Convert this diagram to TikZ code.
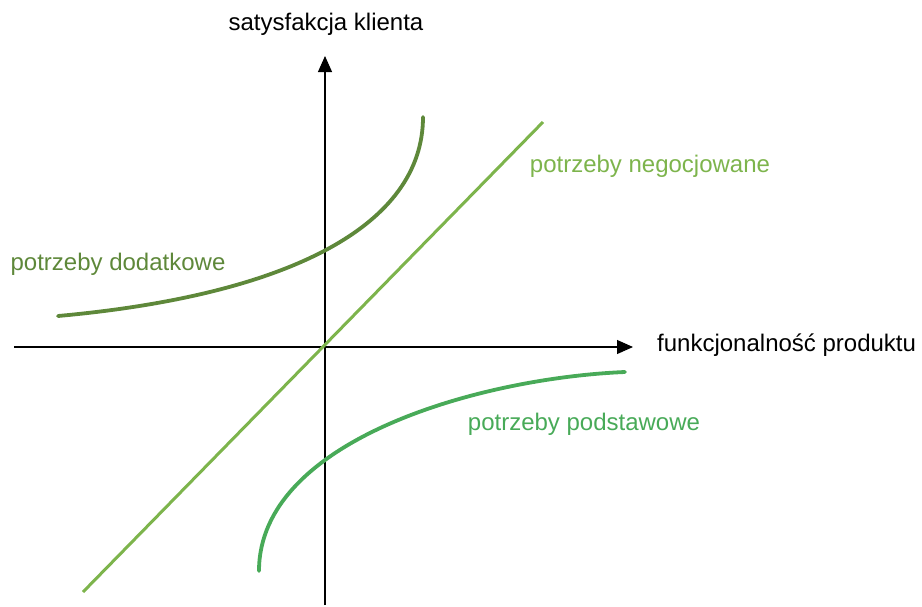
\documentclass[tikz,border=0pt]{standalone}
\usepackage{fontspec}
\setmainfont{Liberation Sans}
\usetikzlibrary{arrows.meta}
\definecolor{cdod}{RGB}{94,136,58}
\definecolor{cneg}{RGB}{125,180,76}
\definecolor{cpod}{RGB}{72,170,88}
\tikzset{
  axis/.style={line width=1.1pt, black, -{Triangle[length=16pt,width=14pt]}},
  lbl/.style={font=\fontsize{24}{28}\selectfont, inner sep=0pt},
  curve/.style={line width=3.8pt, line cap=round},
}
\begin{document}
\begin{tikzpicture}[x=1pt,y=-1pt]
\useasboundingbox (0,0) rectangle (922,606);
% axes
\coordinate (xs) at (14,347);
\coordinate (xe) at (633,347);
\coordinate (ys) at (325,605);
\coordinate (ye) at (325,56);
\draw[axis] (xs) -- (xe);
\draw[axis] (ys) -- (ye);
\node[lbl, anchor=west] (xl) at (657,345) {funkcjonalność produktu};
\node[lbl] (yl) at (326,24) {satysfakcja klienta};
% negotiated line
\coordinate (n1) at (83,592);
\coordinate (n2) at (543,122);
\draw[line width=3pt, cneg] (n1) -- (n2);
\node[lbl, text=cneg] (nl) at (650,166) {potrzeby negocjowane};
% additional needs
\coordinate (d1) at (58,316);
\coordinate (d2) at (423,117);
\draw[curve, cdod] (d1) .. controls (290,295) and (423,225) .. (d2);
\node[lbl, text=cdod] (dl) at (118,264) {potrzeby dodatkowe};
% basic needs
\coordinate (p1) at (259,571);
\coordinate (p2) at (625,372);
\draw[curve, cpod] (p1) .. controls (259,440) and (480,378) .. (p2);
\node[lbl, text=cpod] (pl) at (584,424) {potrzeby podstawowe};
\end{tikzpicture}
\end{document}
